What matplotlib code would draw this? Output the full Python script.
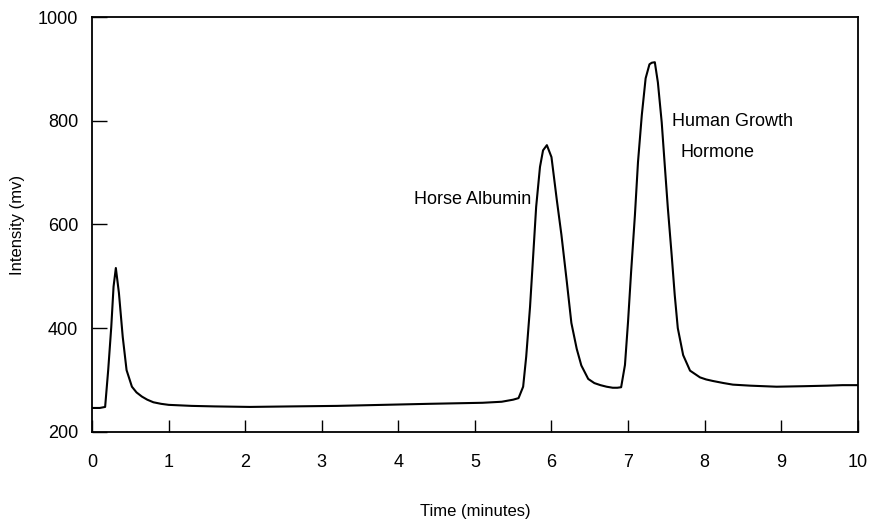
import numpy as np
import matplotlib.pyplot as plt

#chromatogram trace
time_min = [0.0, 0.10, 0.17, 0.21, 0.25, 0.28, 0.31, 0.35, 0.40, 0.45, 0.52, 0.58, 0.65, 0.72,
            0.80, 0.90, 1.00, 1.30, 1.60, 2.06, 2.60, 3.20, 3.80, 4.40, 5.10, 5.35, 5.50,
            5.57, 5.63, 5.67, 5.72, 5.76, 5.80, 5.85, 5.89, 5.94, 6.00, 6.07, 6.13, 6.20,
            6.26, 6.33, 6.39, 6.48, 6.56, 6.64, 6.72, 6.80, 6.86, 6.91, 6.96, 7.00, 7.04,
            7.09, 7.13, 7.18, 7.23, 7.28, 7.31, 7.35, 7.39, 7.44, 7.48, 7.52, 7.57, 7.61,
            7.65, 7.72, 7.81, 7.94, 8.02, 8.11, 8.25, 8.37, 8.60, 8.94, 9.30, 9.60, 9.80, 10.0]
intensity_mv = [246, 246, 248, 319, 402, 480, 516, 468, 383, 319, 287, 276, 268, 262,
                257, 254, 252, 250, 249, 248, 249, 250, 252, 254, 256, 258, 262,
                265, 287, 345, 441, 537, 634, 711, 743, 753, 730, 647, 580, 490,
                410, 360, 328, 302, 294, 290, 287, 285, 285, 286, 329, 412, 508,
                618, 720, 811, 882, 909, 912, 913, 874, 797, 714, 632, 541, 464,
                400, 348, 318, 305, 301, 298, 294, 291, 289, 287, 288, 289, 290, 290]

x_ticks = [0, 1, 2, 3, 4, 5, 6, 7, 8, 9, 10]
y_ticks = [200, 400, 600, 800, 1000]

def main():
    plt.rcParams['font.family'] = ['Liberation Sans', 'DejaVu Sans']
    fig = plt.figure(figsize=(8.69, 5.19), dpi=100)
    ax = fig.add_axes([0.106, 0.168, 0.881, 0.799])

    #draw the trace
    ax.plot(time_min, intensity_mv, color='black', linewidth=1.5)

    ax.set_xlim(0, 10)
    ax.set_ylim(200, 1000)
    ax.set_xticks(x_ticks)
    ax.set_yticks(y_ticks)
    ax.tick_params(axis='x', direction='in', length=9, width=1, pad=16, labelsize=13)
    ax.tick_params(axis='y', direction='in', length=11, width=1, pad=10, labelsize=13)
    for s in ax.spines.values():
        s.set_linewidth(1.3)

    ax.set_xlabel('Time (minutes)', fontsize=12, labelpad=24)
    ax.set_ylabel('Intensity (mv)', fontsize=12, labelpad=9)

    #peak labels
    ax.text(5.74, 649, 'Horse Albumin', fontsize=13, ha='right', va='center')
    ax.text(7.57, 799, 'Human Growth', fontsize=13, ha='left', va='center')
    ax.text(7.68, 738, 'Hormone', fontsize=13, ha='left', va='center')

    fig.savefig('out.png', dpi=100)

if __name__ == "__main__":
    main()
